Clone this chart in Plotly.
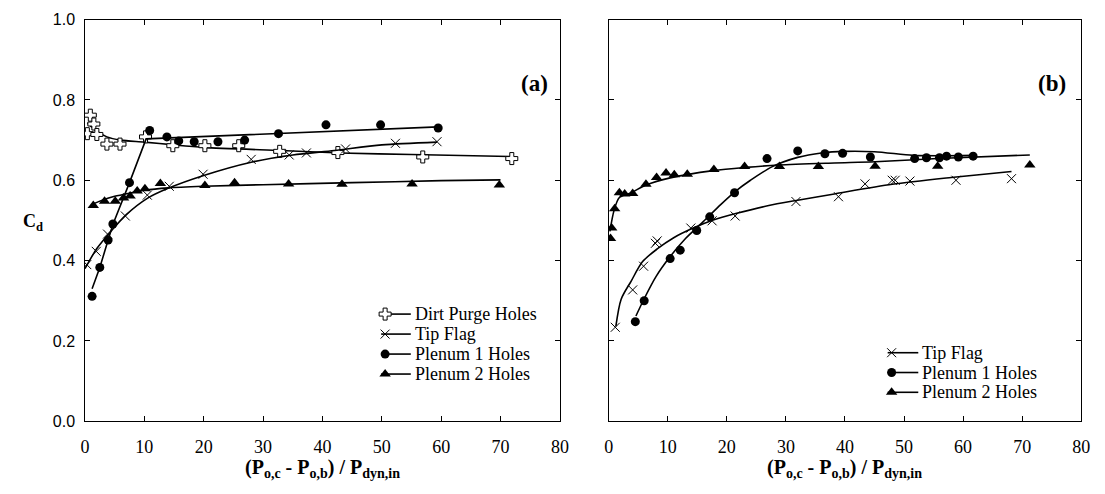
import plotly.graph_objects as go

# ---------------- Panel (a) measured points ----------------
a_dirt_x = [0.4, 0.9, 1.5, 2.0, 3.7, 5.9, 10.2, 14.8, 20.2, 25.9, 32.8, 42.6, 56.9, 71.9]
a_dirt_y = [0.716, 0.762, 0.740, 0.714, 0.690, 0.690, 0.708, 0.686, 0.686, 0.686, 0.672, 0.669, 0.658, 0.654]

a_tip_x = [0.3, 1.9, 3.8, 6.8, 10.5, 14.2, 19.9, 28.0, 34.4, 37.3, 43.9, 52.3, 59.3]
a_tip_y = [0.390, 0.423, 0.466, 0.511, 0.563, 0.585, 0.615, 0.652, 0.663, 0.668, 0.678, 0.692, 0.696]

a_p1_x = [1.2, 2.5, 3.9, 4.7, 7.5, 10.9, 13.8, 15.8, 18.4, 22.4, 26.9, 32.6, 40.6, 49.8, 59.5]
a_p1_y = [0.311, 0.383, 0.451, 0.491, 0.594, 0.724, 0.708, 0.698, 0.696, 0.696, 0.700, 0.716, 0.738, 0.738, 0.730]

a_p2_x = [1.4, 3.3, 5.1, 6.5, 7.6, 8.8, 10.1, 12.7, 20.2, 25.2, 34.3, 43.3, 55.1, 69.8]
a_p2_y = [0.537, 0.548, 0.548, 0.556, 0.561, 0.573, 0.579, 0.592, 0.587, 0.594, 0.591, 0.590, 0.591, 0.588]

# ---------------- Panel (a) fitted curves ----------------
a_dirt_fit_x = [0.4, 2.0, 3.7, 6.0, 10.0, 15.0, 20.0, 33.0, 43.0, 55.0, 72.0]
a_dirt_fit_y = [0.742, 0.722, 0.708, 0.700, 0.695, 0.688, 0.682, 0.674, 0.668, 0.664, 0.659]

a_tip_fit_x = [0.0, 2.0, 4.5, 7.0, 10.5, 14.0, 20.0, 28.0, 35.0, 42.0, 50.0, 59.3]
a_tip_fit_y = [0.380, 0.430, 0.475, 0.515, 0.555, 0.580, 0.612, 0.645, 0.663, 0.674, 0.688, 0.695]

a_p1_fit_x = [1.2, 2.5, 3.9, 4.7, 7.5, 10.3, 59.5]
a_p1_fit_y = [0.330, 0.383, 0.451, 0.490, 0.594, 0.703, 0.733]

a_p2_fit_x = [1.2, 3.0, 5.0, 7.5, 10.0, 14.0, 20.0, 30.0, 45.0, 60.0, 70.0]
a_p2_fit_y = [0.540, 0.551, 0.560, 0.568, 0.575, 0.581, 0.585, 0.589, 0.594, 0.599, 0.601]

# ---------------- Panel (b) measured points ----------------
b_tip_x = [1.1, 4.05, 5.9, 7.9, 8.2, 13.9, 17.5, 21.4, 31.7, 38.9, 43.4, 48.0, 48.5, 51.0, 58.8, 68.2]
b_tip_y = [0.234, 0.327, 0.386, 0.443, 0.449, 0.481, 0.499, 0.511, 0.547, 0.559, 0.591, 0.600, 0.600, 0.598, 0.600, 0.604]

b_p1_x = [4.5, 6.0, 10.4, 12.1, 14.9, 17.1, 21.3, 26.8, 32.0, 36.6, 39.6, 44.3, 51.8, 53.8, 56.0, 57.2, 59.2, 61.7]
b_p1_y = [0.248, 0.300, 0.405, 0.426, 0.475, 0.509, 0.569, 0.654, 0.673, 0.666, 0.667, 0.658, 0.654, 0.656, 0.656, 0.660, 0.658, 0.660]

b_p2_x = [0.3, 0.5, 1.0, 1.8, 2.7, 4.05, 6.3, 8.1, 9.7, 11.1, 13.3, 17.8, 23.0, 28.9, 35.5, 45.1, 55.7, 71.3]
b_p2_y = [0.455, 0.481, 0.529, 0.569, 0.566, 0.567, 0.590, 0.607, 0.618, 0.614, 0.615, 0.627, 0.634, 0.634, 0.634, 0.635, 0.635, 0.638]

# ---------------- Panel (b) fitted curves ----------------
b_tip_fit_x = [1.2, 2.1, 3.8, 5.7, 8.2, 11.0, 14.3, 17.7, 21.5, 27.1, 31.5, 38.2, 48.0, 58.0, 68.2]
b_tip_fit_y = [0.236, 0.304, 0.349, 0.397, 0.429, 0.457, 0.481, 0.501, 0.517, 0.537, 0.549, 0.566, 0.590, 0.607, 0.622]

b_p1_fit_x = [4.6, 6.0, 8.0, 10.4, 13.0, 16.0, 19.0, 21.5, 24.0, 27.7, 32.0, 36.0, 40.0, 45.0, 51.5, 56.0, 61.7]
b_p1_fit_y = [0.262, 0.305, 0.360, 0.410, 0.455, 0.497, 0.540, 0.573, 0.600, 0.634, 0.657, 0.668, 0.672, 0.671, 0.662, 0.661, 0.662]

b_p2_fit_x = [0.2, 0.9, 1.8, 3.8, 6.3, 10.4, 17.7, 23.2, 28.8, 38.2, 45.1, 55.7, 71.3]
b_p2_fit_y = [0.473, 0.525, 0.557, 0.569, 0.588, 0.606, 0.624, 0.632, 0.638, 0.643, 0.646, 0.654, 0.663]

# ---------------- legend contents ----------------
legend_a_names = ["Dirt Purge Holes", "Tip Flag", "Plenum 1 Holes", "Plenum 2 Holes"]
legend_b_names = ["Tip Flag", "Plenum 1 Holes", "Plenum 2 Holes"]

# ---------------- styling ----------------
SERIF = "Times New Roman, Liberation Serif, serif"
SANS = "Arial, Liberation Sans, sans-serif"
BLACK = "black"
W, H = 1105, 494

styles = {
    "Dirt Purge Holes": dict(symbol="cross", size=10, color="white", line=dict(color=BLACK, width=1)),
    "Tip Flag": dict(symbol="x-thin", size=9, color=BLACK, line=dict(color=BLACK, width=1)),
    "Plenum 1 Holes": dict(symbol="circle", size=9, color=BLACK, line=dict(width=0)),
    "Plenum 2 Holes": dict(symbol="triangle-up", size=10, color=BLACK, line=dict(width=0)),
}

fig = go.Figure()


def add_series(name, px, py, fx, fy, xa, ya, shape="spline"):
    fig.add_trace(go.Scatter(x=fx, y=fy, mode="lines", xaxis=xa, yaxis=ya,
                             line=dict(color=BLACK, width=1.6, shape=shape, smoothing=0.8),
                             showlegend=False, hoverinfo="skip"))
    fig.add_trace(go.Scatter(x=px, y=py, mode="markers", xaxis=xa, yaxis=ya,
                             marker=styles[name], showlegend=False, name=name))


add_series("Dirt Purge Holes", a_dirt_x, a_dirt_y, a_dirt_fit_x, a_dirt_fit_y, "x", "y")
add_series("Tip Flag", a_tip_x, a_tip_y, a_tip_fit_x, a_tip_fit_y, "x", "y")
add_series("Plenum 1 Holes", a_p1_x, a_p1_y, a_p1_fit_x, a_p1_fit_y, "x", "y", shape="linear")
add_series("Plenum 2 Holes", a_p2_x, a_p2_y, a_p2_fit_x, a_p2_fit_y, "x", "y")

add_series("Tip Flag", b_tip_x, b_tip_y, b_tip_fit_x, b_tip_fit_y, "x2", "y2")
add_series("Plenum 1 Holes", b_p1_x, b_p1_y, b_p1_fit_x, b_p1_fit_y, "x2", "y2")
add_series("Plenum 2 Holes", b_p2_x, b_p2_y, b_p2_fit_x, b_p2_fit_y, "x2", "y2")

# Empty traces so the label-only overlay axes (x4, x5, y4) get drawn.
for xa, ya in (("x4", "y"), ("x5", "y2"), ("x", "y4")):
    fig.add_trace(go.Scatter(x=[None], y=[None], xaxis=xa, yaxis=ya, mode="markers",
                             showlegend=False, hoverinfo="skip"))

# Legend keys drawn on a pixel-space overlay axis (x3/y3) so rows can be packed tightly.
annotations = []


def add_legend(names, line_x0, mark_x, line_x1, text_x, top_y, row_h):
    for i, name in enumerate(names):
        yy = top_y + i * row_h
        fig.add_trace(go.Scatter(x=[line_x0, line_x1], y=[yy, yy], mode="lines",
                                 xaxis="x3", yaxis="y3", line=dict(color=BLACK, width=1.6),
                                 showlegend=False, hoverinfo="skip"))
        fig.add_trace(go.Scatter(x=[mark_x], y=[yy], mode="markers", xaxis="x3", yaxis="y3",
                                 marker=styles[name], showlegend=False, hoverinfo="skip"))
        annotations.append(dict(text=name, x=text_x, y=yy, xref="x3", yref="y3",
                                xanchor="left", yanchor="middle", showarrow=False,
                                font=dict(family=SERIF, size=18, color=BLACK)))


add_legend(legend_a_names, 381, 385, 411, 413, 317, 20.7)
add_legend(legend_b_names, 894, 898, 925, 927, 357, 20.5)

# Axes: frame + inside ticks on the main axes, tick labels on offset overlay axes.
frame = dict(showgrid=False, zeroline=False, showline=True, linecolor=BLACK, linewidth=1,
             mirror="ticks", ticks="inside", ticklen=5, tickcolor=BLACK, showticklabels=False)
xframe = dict(range=[0, 80], dtick=10, tick0=0, **frame)
yframe = dict(range=[0, 1], dtick=0.2, tick0=0, **frame)

xlabels = dict(range=[0, 80], dtick=10, tick0=0, anchor="free", position=(H - 441) / H,
               showgrid=False, zeroline=False, showline=False, ticks="",
               tickfont=dict(family=SERIF, size=18, color=BLACK))

ybot = (H - 428) / H
ytop = (H - 12) / H

x_title = "<b>(P<sub>o,c</sub> - P<sub>o,b</sub>) / P<sub>dyn,in</sub></b>"
title_font = dict(family=SERIF, size=20, color=BLACK)

annotations += [
    dict(text=x_title, x=(81 + 562) / 2 / W, y=(H - 462) / H, xref="paper", yref="paper",
         xanchor="center", yanchor="top", showarrow=False, font=title_font),
    dict(text=x_title, x=(611.5 + 1090) / 2 / W, y=(H - 462) / H, xref="paper", yref="paper",
         xanchor="center", yanchor="top", showarrow=False, font=title_font),
    dict(text="<b>(a)</b>", x=536 / W, y=(H - 78) / H, xref="paper", yref="paper",
         xanchor="center", yanchor="middle", showarrow=False, font=dict(family=SERIF, size=23, color=BLACK)),
    dict(text="<b>(b)</b>", x=1060 / W, y=(H - 78) / H, xref="paper", yref="paper",
         xanchor="center", yanchor="middle", showarrow=False, font=dict(family=SERIF, size=23, color=BLACK)),
    dict(text="<b>C<sub>d</sub></b>", x=28 / W, y=(H - 222) / H, xref="paper", yref="paper",
         xanchor="center", yanchor="middle", showarrow=False, font=dict(family=SERIF, size=18, color=BLACK)),
]

fig.update_layout(
    width=W, height=H,
    margin=dict(l=0, r=0, t=0, b=0),
    paper_bgcolor="white", plot_bgcolor="rgba(0,0,0,0)",
    showlegend=False,
    xaxis=dict(domain=[81 / W, 562 / W], anchor="y", **xframe),
    yaxis=dict(domain=[ybot, ytop], anchor="x", **yframe),
    xaxis2=dict(domain=[611.5 / W, 1090 / W], anchor="y2", **xframe),
    yaxis2=dict(domain=[ybot, ytop], anchor="x2", **yframe),
    xaxis3=dict(domain=[0, 1], range=[0, W], anchor="y3", visible=False, fixedrange=True),
    yaxis3=dict(domain=[0, 1], range=[H, 0], anchor="x3", visible=False, fixedrange=True),
    xaxis4=dict(overlaying="x", **xlabels),
    xaxis5=dict(overlaying="x2", **xlabels),
    yaxis4=dict(overlaying="y", range=[0, 1], dtick=0.2, tick0=0, tickformat=".1f",
                anchor="free", position=71 / W, side="left",
                showgrid=False, zeroline=False, showline=False, ticks="",
                tickfont=dict(family=SANS, size=16, color=BLACK)),
    annotations=annotations,
)

fig.write_html("out.html")
